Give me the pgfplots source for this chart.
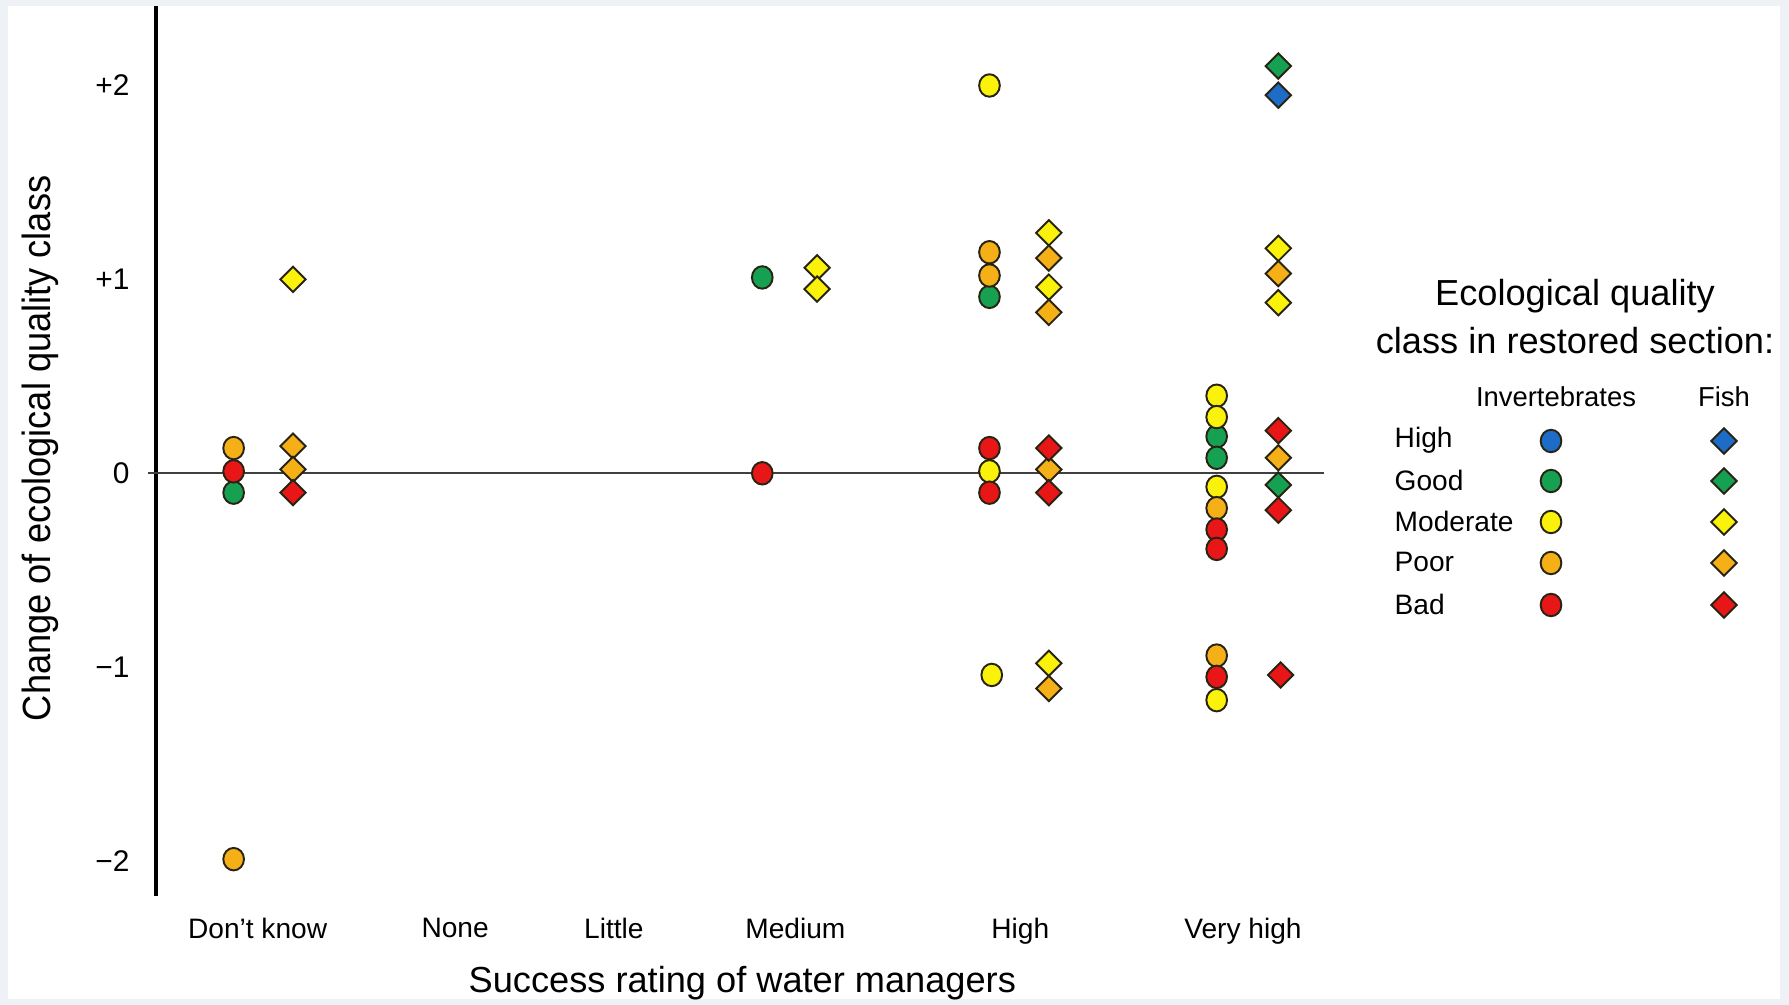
\documentclass[border=0pt]{standalone}
\usepackage{fontspec}
\setmainfont{Liberation Sans}
\usepackage{graphicx}
\usepackage{pgfplots}
\pgfplotsset{compat=1.18}

\definecolor{cBlue}{RGB}{28,108,200}
\definecolor{cGreen}{RGB}{22,160,82}
\definecolor{cYellow}{RGB}{250,242,10}
\definecolor{cOrange}{RGB}{245,176,24}
\definecolor{cRed}{RGB}{232,22,22}
\definecolor{cEdge}{RGB}{40,36,20}
\definecolor{cFrame}{RGB}{238,241,246}

\pgfplotsset{
  circ/.style={only marks, mark=*, mark size=3.2pt,
    mark options={fill=#1, draw=cEdge, line width=0.55pt, xscale=0.92}},
  diam/.style={only marks, mark=square*, mark size=2.55pt,
    mark options={fill=#1, draw=cEdge, line width=0.55pt, rotate=45}},
}

\begin{document}
\begin{tikzpicture}
% ---------- overlay axis in pixel units: background, legend ----------
\begin{axis}[at={(-15.6mm,-10.9mm)}, anchor=south west, scale only axis,
  width=178.9mm, height=100.5mm, xmin=0, xmax=1789, ymin=0, ymax=1005,
  y dir=reverse, hide axis, clip=false]
\fill[cFrame] (axis cs:0,0) rectangle (axis cs:1789,1005);
\fill[white] (axis cs:8,6) rectangle (axis cs:1780,999);
\node[font=\fontsize{10.3}{12}\selectfont] at (axis cs:1575,296) {Ecological quality};
\node[font=\fontsize{10.3}{12}\selectfont] at (axis cs:1575,341) {class in restored section:};
\node[font=\fontsize{7.8}{9}\selectfont] at (axis cs:1556,397) {Invertebrates};
\node[font=\fontsize{7.8}{9}\selectfont] at (axis cs:1724,397) {Fish};
\node[anchor=west, inner sep=0pt, font=\fontsize{8}{9.6}\selectfont] at (axis cs:1394,440) {High};
\node[anchor=west, inner sep=0pt, font=\fontsize{8}{9.6}\selectfont] at (axis cs:1394,480) {Good};
\node[anchor=west, inner sep=0pt, font=\fontsize{8}{9.6}\selectfont] at (axis cs:1394,521) {Moderate};
\node[anchor=west, inner sep=0pt, font=\fontsize{8}{9.6}\selectfont] at (axis cs:1394,562) {Poor};
\node[anchor=west, inner sep=0pt, font=\fontsize{8}{9.6}\selectfont] at (axis cs:1394,604) {Bad};
\addplot[circ=cBlue]   coordinates {(1551,441)};
\addplot[circ=cGreen]  coordinates {(1551,481)};
\addplot[circ=cYellow] coordinates {(1551,522)};
\addplot[circ=cOrange] coordinates {(1551,563)};
\addplot[circ=cRed]    coordinates {(1551,605)};
\addplot[diam=cBlue]   coordinates {(1724,441)};
\addplot[diam=cGreen]  coordinates {(1724,481)};
\addplot[diam=cYellow] coordinates {(1724,522)};
\addplot[diam=cOrange] coordinates {(1724,563)};
\addplot[diam=cRed]    coordinates {(1724,605)};
\end{axis}

% ---------- main axis ----------
\begin{axis}[at={(0,0)}, anchor=south west, scale only axis,
  width=116.8mm, height=89mm,
  xmin=1.37, xmax=11.60, ymin=-2.18, ymax=2.41, clip=false,
  axis y line*=left, axis x line*=bottom,
  y axis line style={line width=0.9pt, black},
  x axis line style={draw=none},
  major tick length=0pt,
  xtick={2.26,3.99,5.38,6.97,8.94,10.89},
  xticklabels={Don't know, None, Little, Medium, High, Very high},
  ytick={-2,-1,0,1,2},
  yticklabels={−2,−1,0,+1,+2},
  xticklabel style={font=\fontsize{8}{9.6}\selectfont, yshift=-1mm},
  yticklabel style={font=\fontsize{8.5}{10}\selectfont, xshift=-4pt},
  xlabel={Success rating of water managers},
  xlabel style={at={(axis description cs:0.502,-0.0978)}, anchor=center,
    inner sep=0pt, font=\fontsize{10.3}{12}\selectfont},
  ylabel={\scalebox{0.92}[1]{Change of ecological quality class}},
  ylabel style={at={(axis description cs:-0.0993,0.503)}, anchor=center,
    inner sep=0pt, font=\fontsize{11.2}{13}\selectfont},
]
\addplot[draw=black!75, line width=0.5pt] coordinates {(1.30,0) (11.60,0)};

% invertebrates (circles)
\addplot[circ=cGreen] coordinates {
 (2.05,-0.10) (6.68,1.01) (8.67,0.91) (10.66,0.19) (10.66,0.08)};
\addplot[circ=cYellow] coordinates {
 (8.67,2.00) (8.67,0.01) (8.69,-1.04) (10.66,0.40) (10.66,0.29) (10.66,-0.07) (10.66,-1.17)};
\addplot[circ=cOrange] coordinates {
 (2.05,0.13) (2.05,-1.99) (8.67,1.14) (8.67,1.02) (10.66,-0.18) (10.66,-0.94)};
\addplot[circ=cRed] coordinates {
 (2.05,0.01) (6.68,0.00) (8.67,0.13) (8.67,-0.10) (10.66,-0.29) (10.66,-0.39) (10.66,-1.05)};

% fish (diamonds)
\addplot[diam=cBlue] coordinates {(11.20,1.95)};
\addplot[diam=cGreen] coordinates {(11.20,2.10) (11.20,-0.06)};
\addplot[diam=cYellow] coordinates {
 (2.57,1.00) (7.16,1.06) (7.16,0.95) (9.19,1.24) (9.19,0.96) (9.19,-0.98) (11.20,1.16) (11.20,0.88)};
\addplot[diam=cOrange] coordinates {
 (2.57,0.14) (2.57,0.02) (9.19,1.11) (9.19,0.83) (9.19,0.02) (9.19,-1.11) (11.20,1.03) (11.20,0.08)};
\addplot[diam=cRed] coordinates {
 (2.57,-0.10) (9.19,0.13) (9.19,-0.10) (11.20,0.22) (11.20,-0.19) (11.22,-1.04)};
\end{axis}
\end{tikzpicture}
\end{document}
